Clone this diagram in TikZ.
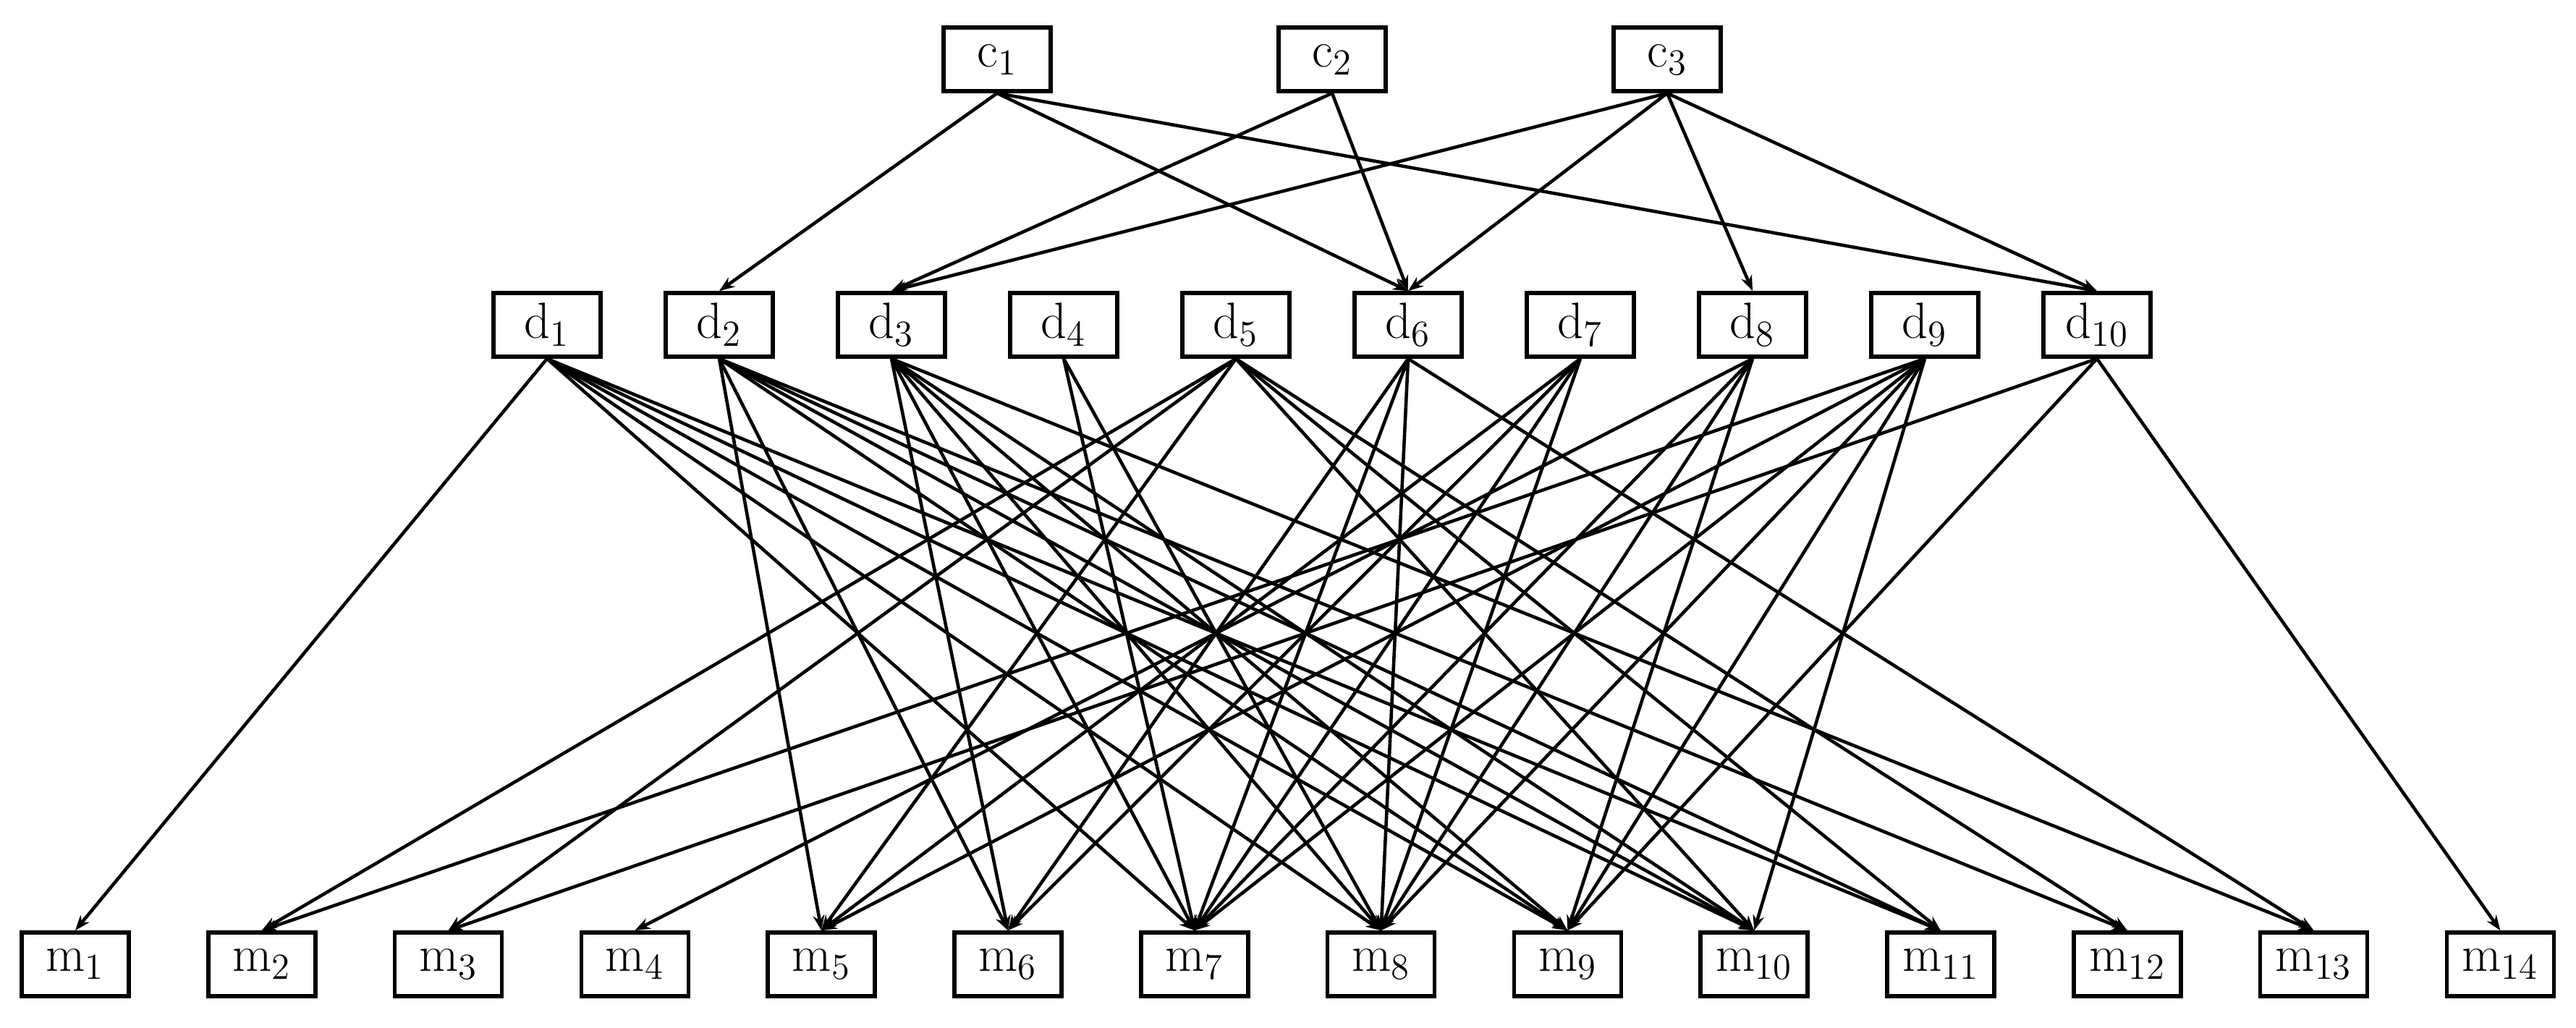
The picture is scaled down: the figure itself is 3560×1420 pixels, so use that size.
\documentclass[tikz,border=0pt]{standalone}
\usetikzlibrary{arrows.meta}
\begin{document}
\begin{tikzpicture}[x=0.01cm,y=-0.01cm,
  box/.style={draw,line width=1.6pt,minimum width=1.48cm,minimum height=0.88cm,inner sep=0pt,font=\fontsize{20}{24}\selectfont},
  arr/.style={line width=1.3pt,-{Stealth[length=6pt,width=4.5pt]}}]
\useasboundingbox (0,0) rectangle (3560,1420);
\foreach \i/\x in {1/1378,2/1841,3/2304}
  \node[box] (c\i) at (\x,82) {c$_{\i}$};
\foreach \i in {1,...,10}
  \node[box] (d\i) at ({756+(\i-1)*238},449) {d$_{\i}$};
\foreach \i in {1,...,14}
  \node[box] (m\i) at ({104+(\i-1)*257.8},1333) {m$_{\i}$};
\foreach \a/\b in {1/2,1/6,1/10,2/3,2/6,3/3,3/6,3/8,3/10}
  \draw[arr] (c\a.south) -- (d\b.north);
\foreach \a/\b in {1/1,1/7,1/8,1/9,1/10,1/11,
  2/5,2/6,2/9,2/10,2/11,2/12,
  3/6,3/7,3/8,3/9,3/10,3/13,
  4/7,4/8,
  5/2,5/3,5/5,5/10,5/11,5/12,
  6/6,6/7,6/8,6/13,
  7/5,7/6,7/7,7/8,
  8/4,8/7,8/8,8/9,
  9/2,9/5,9/7,9/8,9/9,9/10,
  10/3,10/9,10/14}
  \draw[arr] (d\a.south) -- (m\b.north);
\end{tikzpicture}
\end{document}
